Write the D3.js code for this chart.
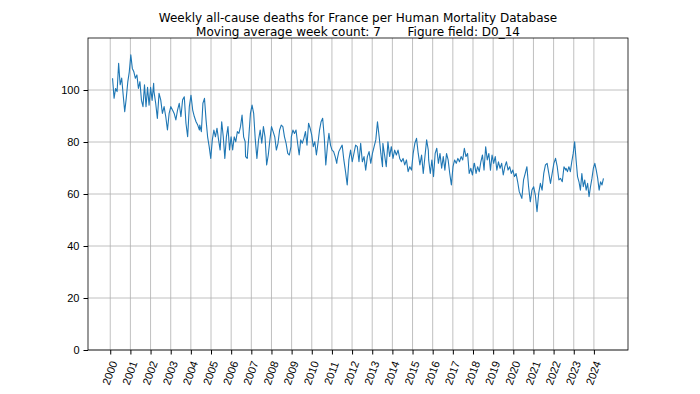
<!DOCTYPE html>
<html>
<head>
<meta charset="utf-8">
<script src="https://cdn.jsdelivr.net/npm/d3@7"></script>
<style>
  body { margin: 0; background: #fff; }
  svg { font-family: "DejaVu Sans", sans-serif; }
</style>
</head>
<body>
<div id="chart"></div>
<script>
// weekly deaths in segments (decimal-year start/end, values evenly spaced)
var segStart = [2000.114, 2002.171, 2004.443, 2006.715, 2008.986, 2011.258, 2013.529, 2015.801, 2018.073, 2020.425, 2022.616];
var segEnd   = [2002.153, 2004.425, 2006.696, 2008.968, 2011.240, 2013.511, 2015.783, 2018.054, 2020.296, 2022.598, 2024.474];
var seg2000 = [104.5, 96.8, 100.6, 99.4, 110.3, 102, 104.6, 98, 91.7, 96.8, 103, 107, 113.5, 108.3, 107, 104.5, 105.8, 100.6, 103.2, 96, 93.6, 102, 93.6, 101, 94.2, 101, 96, 102.6];
var seg2002 = [99.4, 94.9, 89.1, 98.7, 96.2, 91, 93.6, 89.7, 84.6, 91, 93.6, 92.3, 91, 88.5, 92.3, 94.9, 89.7, 96.2, 97.4, 87.2, 82, 93.6, 98, 92.3, 89.7, 87.8, 86.5, 84.6];
var seg2004 = [86.5, 84, 94.9, 96.8, 88.5, 82, 78.2, 73.7, 80.8, 84.6, 82, 85.3, 80.8, 76.9, 87.8, 82, 73.7, 82, 85.9, 76.9, 82, 76.9, 82, 80.1, 84, 83.3, 85.9, 90.4, 82, 80.1];
var seg2006 = [74.4, 73.7, 82, 91, 94.2, 91, 80.8, 73.7, 80.8, 84.6, 79.5, 85.9, 82, 71.2, 75, 80.8, 85.9, 84, 82, 76.9, 79.5, 84.6, 86.5, 85.9, 82, 79.5, 75.6, 75, 78.2];
var seg2009 = [82, 84.6, 83.3, 84.6, 79.5, 75, 80.8, 79.5, 81.4, 84, 78.8, 87.2, 85.3, 82.7, 78.2, 80.1, 75, 79.5, 84.6, 87.8, 89.1, 82, 71.2, 78.2, 83.3, 78.8, 76.9, 76.3, 74.4, 71.8];
var seg2011 = [73.1, 76.3, 77.6, 78.8, 73.1, 68.6, 63.5, 73.1, 76.9, 72.4, 75.6, 78.8, 78.2, 72.4, 79.5, 72.4, 74.4, 69.2, 74.4, 76.3, 71.8, 75.6, 78.2, 80.8, 87.8, 82, 75.6, 70.5];
var seg2013 = [79.5, 75, 70.5, 80.1, 74.4, 78.2, 73.7, 76.9, 75, 76.9, 73.7, 72.4, 73.7, 71.2, 73.1, 68.6, 70.5, 69.2, 75.6, 79.5, 81.4, 75.6, 71.2, 75, 67.9, 74.4, 80.8, 76.9];
var seg2015 = [73.1, 67.9, 73.1, 66.7, 75.6, 77.6, 71.8, 75.6, 69.9, 74.4, 69.2, 75.6, 73.1, 67.9, 63.5, 70.5, 73.1, 71.8, 73.7, 72.4, 74.4, 73.1, 77.6, 74.4, 75.6, 67.9, 69.9, 67.3, 71.8];
var seg2018 = [71.8, 67.9, 70.5, 68.6, 72.4, 75, 69.2, 78.2, 73.1, 75.6, 69.2, 75, 71.8, 74.4, 69.2, 72.4, 69.9, 71.8, 67.3, 70.5, 72.4, 69.2, 70.5, 67.9, 69.2, 66.7, 67.9, 64.7, 60.9];
var seg2020 = [58.3, 65.4, 67.9, 70.5, 62.8, 57, 61.5, 62.8, 59.6, 53.2, 60.3, 64.1, 61.5, 67.9, 71.2, 71.8, 67.9, 64.1, 67.9, 71.8, 73.7, 70.5, 65.4, 66, 64.7, 70.5, 69.2];
var seg2022 = [69.9, 68.6, 70.5, 68.6, 72.4, 75.6, 80.1, 73.1, 66.7, 64.7, 61.5, 67.9, 62.8, 65.4, 61.5, 64.1, 59, 62.8, 66, 69.9, 71.8, 69.2, 66, 61.5, 64.7, 63.5, 66];
var segValues = [seg2000, seg2002, seg2004, seg2006, seg2009, seg2011, seg2013, seg2015, seg2018, seg2020, seg2022];

var yearTicks = d3.range(2000, 2025);
var yTicks = [0, 20, 40, 60, 80, 100];
var titleLines = ["Weekly all-cause deaths for France per Human Mortality Database",
                  "Moving average week count: 7       Figure field: D0_14"];

var data = [];
segValues.forEach(function (vals, i) {
  var step = (segEnd[i] - segStart[i]) / (vals.length - 1);
  vals.forEach(function (v, j) {
    data.push({ t: segStart[i] + j * step, v: v });
  });
});

var W = 700, H = 394;
var margin = { top: 38, right: 72, bottom: 44, left: 88 };
var width = W - margin.left - margin.right;
var height = H - margin.top - margin.bottom;

var svg = d3.select("#chart").append("svg")
  .attr("width", W).attr("height", H);

var pad = (segEnd[segEnd.length - 1] - segStart[0]) * 0.05;
var x = d3.scaleLinear()
  .domain([segStart[0] - pad, segEnd[segEnd.length - 1] + pad])
  .range([margin.left, margin.left + width]);
var y = d3.scaleLinear().domain([0, 120]).range([margin.top + height, margin.top]);

// grid
svg.append("g").selectAll("line").data(yearTicks).enter().append("line")
  .attr("x1", d => x(d)).attr("x2", d => x(d))
  .attr("y1", margin.top).attr("y2", margin.top + height)
  .attr("stroke", "#b0b0b0").attr("stroke-width", 0.8);
svg.append("g").selectAll("line").data(yTicks).enter().append("line")
  .attr("x1", margin.left).attr("x2", margin.left + width)
  .attr("y1", d => y(d)).attr("y2", d => y(d))
  .attr("stroke", "#b0b0b0").attr("stroke-width", 0.8);

// line
var line = d3.line().x(d => x(d.t)).y(d => y(d.v));
svg.append("path").datum(data)
  .attr("d", line)
  .attr("fill", "none")
  .attr("stroke", "#1f77b4")
  .attr("stroke-width", 1.1)
  .attr("stroke-linejoin", "round");

// axes
var yAxis = d3.axisLeft(y).tickValues(yTicks).tickSize(4.5).tickPadding(4);
var gy = svg.append("g").attr("transform", "translate(" + margin.left + ",0)").call(yAxis);
gy.select(".domain").remove();
gy.selectAll("text").style("font-size", "11px").attr("fill", "#000");

var xAxis = d3.axisBottom(x).tickValues(yearTicks).tickSize(4.5).tickFormat(d3.format("d"));
var gx = svg.append("g").attr("transform", "translate(0," + (margin.top + height) + ")").call(xAxis);
gx.select(".domain").remove();
gx.selectAll("text")
  .style("font-size", "11px").attr("fill", "#000")
  .attr("text-anchor", "middle")
  .attr("dy", "0.35em")
  .attr("y", 0)
  .attr("transform", "translate(-1,23) rotate(-70)");

// frame
svg.append("rect")
  .attr("x", margin.left).attr("y", margin.top)
  .attr("width", width).attr("height", height)
  .attr("fill", "none").attr("stroke", "#000").attr("stroke-width", 0.8);

// title
svg.append("g").selectAll("text").data(titleLines).enter().append("text")
  .attr("x", margin.left + width / 2)
  .attr("y", (d, i) => 22 + i * 14)
  .attr("text-anchor", "middle")
  .attr("xml:space", "preserve")
  .style("white-space", "pre")
  .style("font-size", "12px")
  .text(d => d);
</script>
</body>
</html>
